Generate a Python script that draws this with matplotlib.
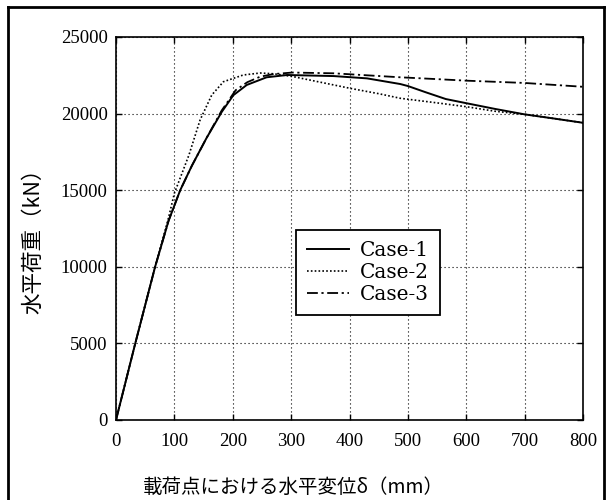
"""Load-displacement curves of three analysis cases, redrawn from a scanned figure."""

from matplotlib.lines import Line2D
import matplotlib.pyplot as plt

# Data
case1_x = [0, 33, 67, 90, 110, 130, 155, 181, 201, 224, 258, 293, 373, 430,
           487, 500, 530, 565, 600, 650, 700, 750, 800]
case1_y = [0, 5000, 10000, 13000, 15000, 16600, 18400, 20100, 21200, 21870,
           22370, 22520, 22450, 22300, 21930, 21800, 21400, 20950, 20680,
           20300, 19950, 19680, 19400]

case2_x = [0, 33, 67, 90, 100, 113, 125, 144, 164, 184, 218, 247, 270, 304,
           350, 401, 450, 487, 550, 600, 650, 700, 750, 800]
case2_y = [0, 5000, 10000, 13200, 14800, 16100, 17300, 19580, 21210, 22080,
           22520, 22650, 22600, 22410, 22050, 21650, 21300, 21000, 20700,
           20450, 20150, 19950, 19680, 19400]

case3_x = [0, 33, 67, 90, 110, 130, 155, 181, 205, 225, 247, 270, 302, 373,
           430, 487, 550, 600, 700, 800]
case3_y = [0, 5000, 10000, 13000, 15000, 16600, 18400, 20200, 21530, 22050,
           22410, 22580, 22680, 22630, 22500, 22370, 22250, 22150, 22000,
           21750]

labels = ["Case-1", "Case-2", "Case-3"]
x_ticks = [0, 100, 200, 300, 400, 500, 600, 700, 800]
y_ticks = [0, 5000, 10000, 15000, 20000, 25000]

xlabel = "載荷点における水平変位δ（mm）"
ylabel = "水平荷重（kN）"

# Figure
fig = plt.figure(figsize=(6.08, 5.0), dpi=100)
ax = fig.add_axes([116 / 608, 80 / 500, 467 / 608, 383 / 500])

ax.plot(case1_x, case1_y, color="black", lw=1.4, ls="-", label=labels[0])
ax.plot(case2_x, case2_y, color="black", lw=1.2, ls=(0, (1, 1.3)),
        label=labels[1])
ax.plot(case3_x, case3_y, color="black", lw=1.3, ls=(0, (6, 2, 1.2, 2)),
        label=labels[2])

ax.set_xlim(0, 800)
ax.set_ylim(0, 25000)
ax.set_xticks(x_ticks)
ax.set_yticks(y_ticks)
ax.grid(True, color="black", lw=0.8, ls=(0, (1, 2.6)))

tick_font = {"family": "Liberation Serif", "size": 13.5}
ax.set_xticklabels([str(v) for v in x_ticks], fontdict=tick_font)
ax.set_yticklabels([str(v) for v in y_ticks], fontdict=tick_font)
ax.tick_params(direction="in", length=4, width=1, top=True, right=True,
               pad=6, color="black")
ax.tick_params(axis="x", pad=9)
for spine in ax.spines.values():
    spine.set_linewidth(1.2)

leg = ax.legend(loc="upper left", bbox_to_anchor=(0.385, 0.496),
                borderaxespad=0, fancybox=False, framealpha=1,
                edgecolor="black", handlelength=2.1, handletextpad=0.55,
                labelspacing=0.15, borderpad=0.55,
                prop={"family": "DejaVu Serif", "size": 14.5})
leg.get_frame().set_linewidth(1.3)

# Axis titles (Japanese)
cjk = ["Noto Sans CJK JP", "DejaVu Sans"]
fig.text(293 / 608, 1 - 487 / 500, xlabel, ha="center", va="center",
         fontsize=14, family=cjk)
fig.text(33 / 608, 1 - 236 / 500, ylabel, ha="center", va="center",
         rotation=90, fontsize=15.5, family=cjk)

# Scanned frame around the figure
frame_kw = dict(color="black", lw=2.0, transform=fig.transFigure)
fig.add_artist(Line2D([8 / 608, 8 / 608], [0, 1 - 7 / 500], **frame_kw))
fig.add_artist(Line2D([8 / 608, 604 / 608], [1 - 7 / 500, 1 - 7 / 500],
                      **frame_kw))
fig.add_artist(Line2D([604 / 608, 604 / 608], [0, 1 - 7 / 500], **frame_kw))

fig.savefig("out.png", dpi=100)
